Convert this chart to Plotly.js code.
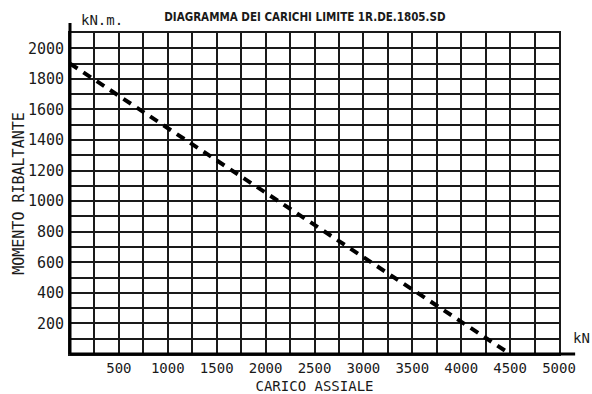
<!DOCTYPE html>
<html>
<head>
<meta charset="utf-8">
<script src="https://cdn.plot.ly/plotly-3.0.1.min.js"></script>
<style>
html,body{margin:0;padding:0;background:#fff;}
#chart{width:592px;height:394px;}
</style>
</head>
<body>
<div id="chart"></div>
<script>
// Data
const caricoAssiale = [0, 4500];        // kN
const momentoRibaltante = [1900, 0];    // kN.m
const xTickVals = [500, 1000, 1500, 2000, 2500, 3000, 3500, 4000, 4500, 5000];
const xTickText = ['500', '1000', '1500', '2000', '2500', '3000', '3500', '4000', '4500', '5000'];
const yTickVals = [200, 400, 600, 800, 1000, 1200, 1400, 1600, 1800, 2000];
const yTickText = ['200', '400', '600', '800', '1000', '1200', '1400', '1600', '1800', '2000'];

const FONT = 'DejaVu Sans Mono, monospace';
const INK = '#1a1a1a';

const trace = {
  x: caricoAssiale,
  y: momentoRibaltante,
  type: 'scatter',
  mode: 'lines',
  line: {color: '#000', width: 4, dash: '9px,7px'},
  hoverinfo: 'skip',
  showlegend: false
};

const layout = {
  width: 592,
  height: 394,
  margin: {l: 70, r: 33, t: 33, b: 40},
  paper_bgcolor: '#fff',
  plot_bgcolor: '#fff',
  showlegend: false,
  title: {
    text: 'DIAGRAMMA DEI CARICHI LIMITE 1R.DE.1805.SD',
    font: {family: 'DejaVu Sans Condensed, Liberation Sans Narrow, Liberation Sans, sans-serif', size: 11.5, color: INK, weight: 'bold'},
    x: 0.515, xanchor: 'center', xref: 'container',
    y: 0.957, yanchor: 'middle', yref: 'container'
  },
  xaxis: {
    range: [0, 5000],
    tickmode: 'array',
    tickvals: xTickVals,
    ticktext: xTickText,
    ticks: '',
    showgrid: true, gridcolor: INK, gridwidth: 2,
    minor: {dtick: 250, showgrid: true, gridcolor: INK, gridwidth: 2, ticks: ''},
    showline: true, mirror: true, linecolor: INK, linewidth: 2,
    zeroline: false,
    ticklabelstandoff: 0,
    tickfont: {family: FONT, size: 14, color: INK},
    title: {text: 'CARICO ASSIALE', font: {family: FONT, size: 14, color: INK}, standoff: 14},
    fixedrange: true
  },
  yaxis: {
    range: [0, 2100],
    tickmode: 'array',
    tickvals: yTickVals,
    ticktext: yTickText,
    ticks: '',
    showgrid: true, gridcolor: INK, gridwidth: 2,
    minor: {dtick: 100, showgrid: true, gridcolor: INK, gridwidth: 2, ticks: ''},
    showline: true, mirror: true, linecolor: INK, linewidth: 2,
    zeroline: false,
    ticklabelstandoff: 1,
    tickfont: {family: FONT, size: 15, color: INK},
    title: {text: 'MOMENTO RIBALTANTE', font: {family: FONT, size: 15, color: INK}, standoff: 0},
    fixedrange: true
  },
  shapes: [
    {type: 'line', xref: 'paper', yref: 'paper', x0: 0, x1: 0, y0: 0, y1: 1.031, line: {color: '#000', width: 3}},
    {type: 'line', xref: 'paper', yref: 'paper', x0: 0, x1: 1.033, y0: 0, y1: 0, line: {color: '#000', width: 3}}
  ],
  annotations: [
    {text: 'kN.m.', xref: 'paper', yref: 'paper', x: 0.066, y: 1.04, xanchor: 'center', yanchor: 'middle', showarrow: false,
     font: {family: FONT, size: 14, color: INK}},
    {text: 'kN', xref: 'paper', yref: 'paper', x: 1.045, y: 0.05, xanchor: 'center', yanchor: 'middle', showarrow: false,
     font: {family: FONT, size: 14, color: INK}}
  ]
};

Plotly.newPlot('chart', [trace], layout, {displayModeBar: false, staticPlot: true});
</script>
</body>
</html>
